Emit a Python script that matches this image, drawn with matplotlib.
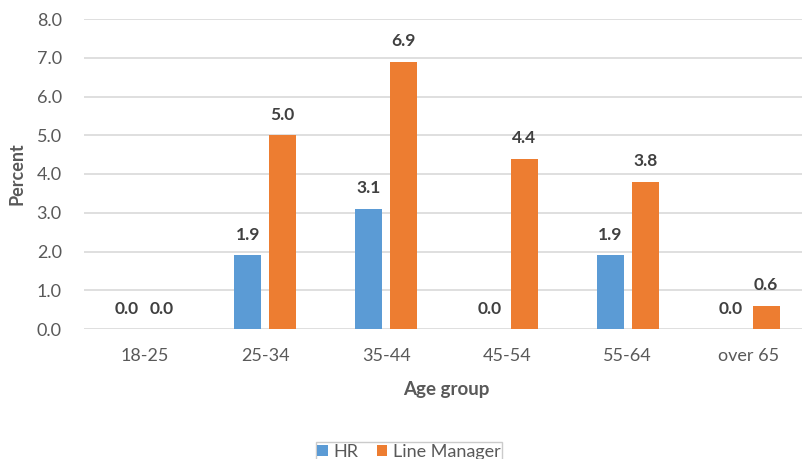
import matplotlib
matplotlib.use("Agg")
import matplotlib.pyplot as plt
import numpy as np

plt.rcParams['font.family'] = ['Lato', 'DejaVu Sans']

categories = ["18-25", "25-34", "35-44", "45-54", "55-64", "over 65"]
hr = [0.0, 1.9, 3.1, 0.0, 1.9, 0.0]
line_manager = [0.0, 5.0, 6.9, 4.4, 3.8, 0.6]
y_ticks = [0, 1, 2, 3, 4, 5, 6, 7, 8]

HR_COLOR = "#5B9BD5"
LM_COLOR = "#ED7D31"
TEXT = "#595959"
LABEL = "#404040"
GRID = "#D9D9D9"

fig = plt.figure(figsize=(8.02, 4.59), dpi=100)
ax = fig.add_axes([84 / 802, 1 - 329 / 459, 725 / 802, 310 / 459])

x = np.arange(len(categories))
w = 0.223
off = 0.145
b1 = ax.bar(x - off, hr, w, color=HR_COLOR, label="HR", zorder=3)
b2 = ax.bar(x + off, line_manager, w, color=LM_COLOR, label="Line Manager", zorder=3)

for bars, vals in ((b1, hr), (b2, line_manager)):
    for rect, v in zip(bars, vals):
        ax.annotate(f"{v:.1f}", (rect.get_x() + rect.get_width() / 2, v),
                    xytext=(0, 9), textcoords="offset points",
                    ha="center", va="bottom", fontsize=12.5, fontweight="bold",
                    color=LABEL)

ax.set_xlim(-0.5, len(categories) - 0.5)
ax.set_ylim(0, 8)
ax.set_yticks(y_ticks)
ax.set_yticklabels([f"{t:.1f}" for t in y_ticks])
ax.set_xticks(x)
ax.set_xticklabels(categories)
ax.tick_params(axis="both", length=0, colors=TEXT, labelsize=13)
ax.tick_params(axis="y", pad=16)
ax.tick_params(axis="x", pad=14)
ax.yaxis.grid(True, color=GRID, linewidth=1.2, zorder=0)
ax.set_axisbelow(True)
for s in ax.spines.values():
    s.set_visible(False)

ax.set_ylabel("Percent", fontsize=13, fontweight="bold", color=TEXT, labelpad=8)
ax.set_xlabel("Age group", fontsize=13.5, fontweight="bold", color=TEXT, labelpad=12)

leg = fig.legend(handles=[b1, b2], loc="upper center",
                 bbox_to_anchor=(409 / 802, 1 - 442 / 459), ncol=2,
                 frameon=True, fancybox=False, fontsize=13,
                 handlelength=0.6, handleheight=0.6, handletextpad=0.3,
                 columnspacing=1.0, borderpad=0.1, borderaxespad=0,
                 labelcolor=TEXT)
leg.get_frame().set_edgecolor("#BFBFBF")
leg.get_frame().set_linewidth(1.0)

fig.savefig("out.png", dpi=100)
